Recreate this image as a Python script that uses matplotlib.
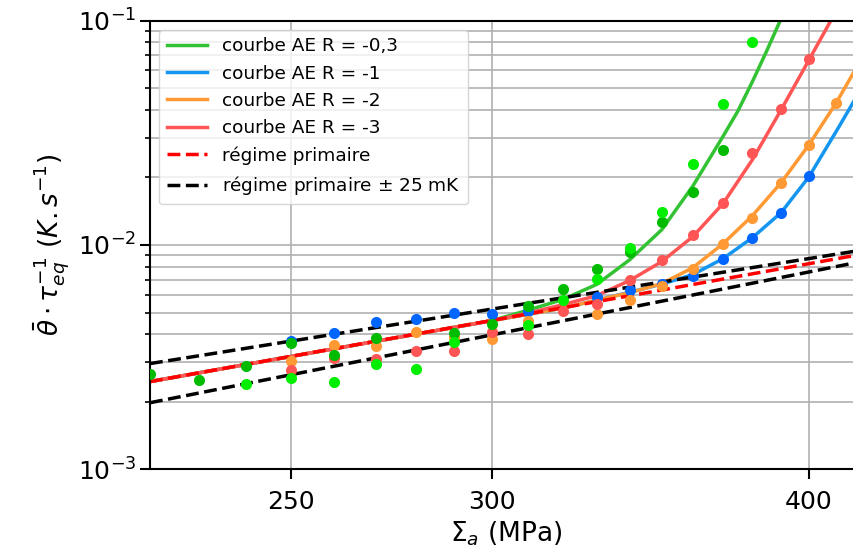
import matplotlib
matplotlib.use("Agg")
import matplotlib.pyplot as plt
from matplotlib.ticker import ScalarFormatter, NullLocator

# stress amplitude (MPa) for the measured points
sig_lime = [240, 250, 260, 270, 280, 290, 310, 320, 330, 340, 350, 360, 370, 380]
val_lime = [0.00239, 0.00255, 0.00246, 0.00296, 0.00281, 0.0037, 0.00439, 0.00567,
            0.00706, 0.0097, 0.0140, 0.0230, 0.0426, 0.0804]
sig_dgreen = [220, 230, 240, 250, 260, 270, 290, 300, 310, 320, 330, 340, 350, 360, 370]
val_dgreen = [0.00265, 0.00251, 0.0029, 0.00366, 0.00324, 0.00385, 0.00406, 0.00445,
              0.00533, 0.00639, 0.00782, 0.00934, 0.0127, 0.0173, 0.0265]
sig_blue = [250, 260, 270, 280, 290, 300, 310, 330, 340, 350, 360, 370, 380, 390, 400]
val_blue = [0.00372, 0.00406, 0.00452, 0.00468, 0.00498, 0.00493, 0.0051, 0.00584,
            0.00628, 0.00673, 0.00725, 0.00866, 0.0107, 0.0139, 0.0204]
sig_orange = [250, 260, 270, 280, 290, 300, 310, 330, 340, 350, 360, 370, 380, 390, 400, 410]
val_orange = [0.00303, 0.00357, 0.00356, 0.00408, 0.0039, 0.00382, 0.00456, 0.00493,
              0.00571, 0.00654, 0.00782, 0.0101, 0.0132, 0.0189, 0.028, 0.0429]
sig_red = [250, 260, 270, 280, 290, 300, 310, 320, 330, 340, 350, 360, 370, 380, 390, 400]
val_red = [0.00276, 0.00312, 0.00311, 0.00338, 0.00338, 0.0041, 0.00403, 0.00508,
           0.00548, 0.00701, 0.0086, 0.0111, 0.0154, 0.0257, 0.0403, 0.0673]

# AE curves
curve_green_x = [220, 300, 310, 320, 330, 340, 350, 360, 370, 375, 380, 385, 390]
curve_green_y = [0.00246, 0.0046, 0.00512, 0.00572, 0.00668, 0.0086, 0.0117, 0.0183,
                 0.0305, 0.0395, 0.0535, 0.0735, 0.102]
curve_blue_x = [220, 300, 320, 330, 340, 350, 360, 370, 380, 390, 400, 411, 417]
curve_blue_y = [0.00246, 0.0046, 0.00523, 0.00568, 0.00616, 0.00669, 0.00738, 0.00869,
                0.01078, 0.01393, 0.02013, 0.0336, 0.0445]
curve_orange_x = [220, 300, 320, 330, 340, 350, 360, 370, 380, 390, 400, 410, 417]
curve_orange_y = [0.00246, 0.0046, 0.00523, 0.00568, 0.00613, 0.00673, 0.00792, 0.01013,
                  0.01351, 0.01894, 0.02797, 0.043, 0.06]
curve_red_x = [220, 300, 310, 320, 330, 340, 350, 360, 370, 380, 390, 400, 408]
curve_red_y = [0.00246, 0.0046, 0.00497, 0.00542, 0.00595, 0.00695, 0.00843, 0.0109,
               0.0153, 0.024, 0.04, 0.0668, 0.1]

# primary regime and +/- 25 mK band (straight on log-log)
prim_x = [220, 420]
prim_y = [0.00246, 0.00911]
prim_hi_y = [0.00296, 0.0095]
prim_lo_y = [0.00198, 0.00846]

fig = plt.figure(figsize=(8.54, 5.6), dpi=100)
ax = fig.add_axes([0.1756, 0.162, 0.8346, 0.801])
ax.set_xscale("log")
ax.set_yscale("log")

lw = 2.5
ax.plot(curve_green_x, curve_green_y, color="#33c233", lw=lw, label="courbe AE R = -0,3")
ax.plot(curve_blue_x, curve_blue_y, color="#1496f0", lw=lw, label="courbe AE R = -1")
ax.plot(curve_orange_x, curve_orange_y, color="#ff9933", lw=lw, label="courbe AE R = -2")
ax.plot(curve_red_x, curve_red_y, color="#ff5555", lw=lw, label="courbe AE R = -3")
ax.plot(prim_x, prim_y, "--", color="#ff0000", lw=2.5, label="régime primaire")
ax.plot(prim_x, prim_hi_y, "--", color="black", lw=2.5, label="régime primaire $\\pm$ 25 mK")
ax.plot(prim_x, prim_lo_y, "--", color="black", lw=2.5)

ms = 8
ax.plot(sig_blue, val_blue, "o", color="#0066ff", ms=ms, mew=0, zorder=3)
ax.plot(sig_orange, val_orange, "o", color="#ff9933", ms=ms, mew=0, zorder=3)
ax.plot(sig_red, val_red, "o", color="#ff5555", ms=ms, mew=0, zorder=3)
ax.plot(sig_dgreen, val_dgreen, "o", color="#00bb00", ms=ms, mew=0, zorder=3)
ax.plot(sig_lime, val_lime, "o", color="#00ee00", ms=ms, mew=0, zorder=3)

ax.set_xlim(220, 420)
ax.set_ylim(1e-3, 1e-1)
ax.set_xticks([250, 300, 400])
ax.xaxis.set_major_formatter(ScalarFormatter())
ax.xaxis.set_minor_locator(NullLocator())

ax.grid(True, which="major", color="#b0b0b0", lw=1.2)
ax.grid(True, which="minor", axis="y", color="#b0b0b0", lw=1.2)
ax.set_axisbelow(True)

for s in ax.spines.values():
    s.set_linewidth(1.5)
ax.tick_params(which="major", length=7, width=1.5, labelsize=18)
ax.tick_params(which="minor", length=3.5, width=1.2)
ax.tick_params(axis="x", pad=8)
ax.tick_params(axis="y", pad=3)

ax.set_xlabel("$\\Sigma_a$ (MPa)", fontsize=19, labelpad=4)
ax.set_ylabel("$\\bar{\\theta}\\cdot\\tau_{eq}^{-1}\\ (K.s^{-1})$", fontsize=19)

ax.legend(loc="upper left", fontsize=13.3, handlelength=2.2)

fig.savefig("out.png", dpi=100)
